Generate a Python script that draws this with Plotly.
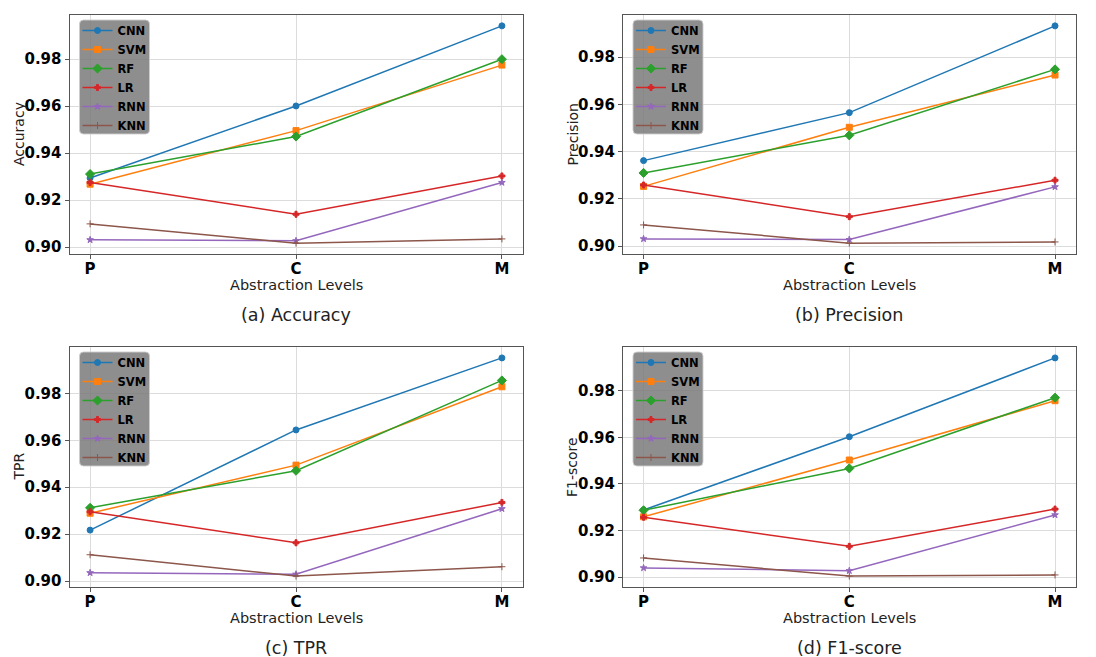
import plotly.graph_objects as go

levels = ["P", "C", "M"]
models = ["CNN", "SVM", "RF", "LR", "RNN", "KNN"]
colors = ["#1f77b4", "#ff7f0e", "#2ca02c", "#d62728", "#9467bd", "#8c564b"]
symbols = ["circle", "square", "diamond", "cross", "star", "cross-thin"]
msizes = [6, 6, 7, 5, 5, 5]

accuracy = {
    "CNN": [0.9294, 0.9601, 0.9942],
    "SVM": [0.9268, 0.9496, 0.9775],
    "RF":  [0.9311, 0.9471, 0.9800],
    "LR":  [0.9275, 0.9140, 0.9303],
    "RNN": [0.9031, 0.9027, 0.9275],
    "KNN": [0.9099, 0.9017, 0.9035],
}
precision = {
    "CNN": [0.9362, 0.9565, 0.9932],
    "SVM": [0.9253, 0.9503, 0.9724],
    "RF":  [0.9310, 0.9469, 0.9748],
    "LR":  [0.9259, 0.9125, 0.9279],
    "RNN": [0.9031, 0.9028, 0.9251],
    "KNN": [0.9090, 0.9013, 0.9018],
}
tpr = {
    "CNN": [0.9217, 0.9644, 0.9951],
    "SVM": [0.9289, 0.9494, 0.9828],
    "RF":  [0.9312, 0.9470, 0.9855],
    "LR":  [0.9295, 0.9163, 0.9335],
    "RNN": [0.9035, 0.9029, 0.9308],
    "KNN": [0.9112, 0.9021, 0.9061],
}
f1 = {
    "CNN": [0.9288, 0.9603, 0.9942],
    "SVM": [0.9259, 0.9503, 0.9758],
    "RF":  [0.9287, 0.9467, 0.9771],
    "LR":  [0.9257, 0.9132, 0.9292],
    "RNN": [0.9039, 0.9027, 0.9267],
    "KNN": [0.9082, 0.9004, 0.9009],
}

panels = [
    (accuracy, "Accuracy", "(a) Accuracy"),
    (precision, "Precision", "(b) Precision"),
    (tpr, "TPR", "(c) TPR"),
    (f1, "F1-score", "(d) F1-score"),
]
yticks = [0.90, 0.92, 0.94, 0.96, 0.98]

W, H = 1096, 657
# pixel boxes: (left, right, top, bottom)
boxes = [
    (69.5, 522.5, 15, 254),
    (623, 1075.6, 15, 254),
    (69.5, 522.5, 347, 587),
    (623, 1075.6, 347, 587),
]


def px(x):
    return x / W


def py(y):
    return 1 - y / H


fig = go.Figure()
shapes = []
annotations = []
layout = dict(
    width=W, height=H,
    margin=dict(l=0, r=0, t=0, b=0),
    paper_bgcolor="white", plot_bgcolor="white",
    font=dict(family="DejaVu Sans", color="black"),
    showlegend=True,
)

for i, (data, ylabel, title) in enumerate(panels):
    n = i + 1
    xa = "x" if n == 1 else f"x{n}"
    ya = "y" if n == 1 else f"y{n}"
    lg = "legend" if n == 1 else f"legend{n}"
    for m, c, s, ms in zip(models, colors, symbols, msizes):
        fig.add_trace(go.Scatter(
            x=[0, 1, 2], y=data[m], mode="lines+markers", name=m,
            line=dict(color=c, width=1.5),
            marker=dict(symbol=s, size=ms, color=c, line=dict(color=c, width=1)),
            xaxis=xa, yaxis=ya, legend=lg,
        ))
    l, r, t, b = boxes[i]
    allv = [v for m in models for v in data[m]]
    lo, hi = min(allv), max(allv)
    pad = (hi - lo) * 0.05
    axis_common = dict(
        showline=True, mirror=True, linecolor="#555555", linewidth=1,
        showgrid=True, gridcolor="#dcdcdc", gridwidth=1,
        ticks="outside", ticklen=4, tickcolor="#555555",
        tickfont=dict(family="DejaVu Sans", size=15, color="black", weight="bold"),
        zeroline=False, automargin=False,
    )
    layout["xaxis" if n == 1 else f"xaxis{n}"] = dict(
        domain=[l / W, r / W], range=[-0.1, 2.1],
        tickvals=[0, 1, 2], ticktext=levels, anchor=ya,
        ticklabelstandoff=-3, **axis_common)
    layout["yaxis" if n == 1 else f"yaxis{n}"] = dict(
        domain=[1 - b / H, 1 - t / H], range=[lo - pad, hi + pad],
        tickvals=yticks, ticktext=[f"{v:.2f}" for v in yticks], anchor=xa, **axis_common)

    # legend background (rounded)
    lx0, ly0 = l + 10, t + 5
    lx1, ly1 = lx0 + 70, ly0 + 114
    rr = 4
    ppath = (f"M {px(lx0+rr)},{py(ly0)} L {px(lx1-rr)},{py(ly0)} Q {px(lx1)},{py(ly0)} {px(lx1)},{py(ly0+rr)} "
             f"L {px(lx1)},{py(ly1-rr)} Q {px(lx1)},{py(ly1)} {px(lx1-rr)},{py(ly1)} L {px(lx0+rr)},{py(ly1)} "
             f"Q {px(lx0)},{py(ly1)} {px(lx0)},{py(ly1-rr)} L {px(lx0)},{py(ly0+rr)} Q {px(lx0)},{py(ly0)} {px(lx0+rr)},{py(ly0)} Z")
    shapes.append(dict(type="path", xref="paper", yref="paper", path=ppath,
                       fillcolor="rgba(122,122,122,0.85)", line=dict(color="rgba(205,205,205,0.9)", width=1),
                       layer="above"))
    layout[lg] = dict(
        x=px(lx0 - 2), y=py(ly0 - 4), xanchor="left", yanchor="top",
        bgcolor="rgba(0,0,0,0)", borderwidth=0,
        font=dict(family="DejaVu Sans", size=11.5, color="black", weight="bold"),
        tracegroupgap=0, itemwidth=30,
    )

    cx = l + (r - l) * (1.1 / 2.2)
    annotations.append(dict(text="Abstraction Levels", x=px(cx), y=py(b + 31),
                            xref="paper", yref="paper", showarrow=False,
                            xanchor="center", yanchor="middle",
                            font=dict(family="DejaVu Sans", size=14.5, color="#222")))
    annotations.append(dict(text=title, x=px(cx), y=py(b + 61),
                            xref="paper", yref="paper", showarrow=False,
                            xanchor="center", yanchor="middle",
                            font=dict(family="DejaVu Sans", size=17.5, color="#222")))
    annotations.append(dict(text=ylabel, x=px(l - 51), y=py((t + b) / 2),
                            xref="paper", yref="paper", showarrow=False, textangle=-90,
                            xanchor="center", yanchor="middle",
                            font=dict(family="DejaVu Sans", size=14, color="#222")))

layout["shapes"] = shapes
layout["annotations"] = annotations
fig.update_layout(**layout)
fig.write_html("out.html")
